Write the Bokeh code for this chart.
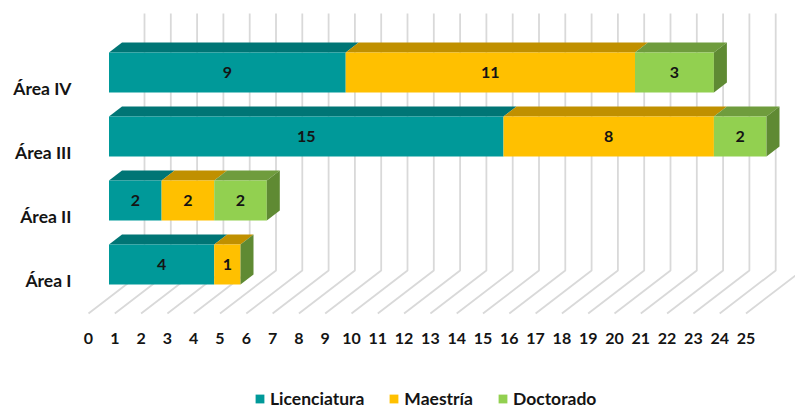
from bokeh.embed import file_html
from bokeh.resources import INLINE
from bokeh.plotting import figure
from bokeh.models import ColumnDataSource, FixedTicker, Legend, LegendItem
from bokeh.core.properties import value

# ---- data ----
areas = ["Área I", "Área II", "Área III", "Área IV"]
licenciatura = [4, 2, 15, 9]
maestria = [1, 2, 8, 11]
doctorado = [0, 2, 2, 3]
series_names = ["Licenciatura", "Maestría", "Doctorado"]
series_values = [licenciatura, maestria, doctorado]
x_ticks = list(range(0, 26))

# ---- style ----
front_colors = ["#009999", "#FFC000", "#92D050"]
top_colors = ["#007575", "#C09000", "#6F9C3D"]
side_color = "#5F8A33"
grid_color = "#D9D9D9"
text_color = "#141414"
FONT = "Lato"

# pixel scales of the oblique projection
PX_X = 26.3          # px per value unit
PX_Y = 64.0          # px per category
W, H = 795, 408
ZERO_PX = 88         # where value 0 falls on the floor's front edge
LEFT = 75            # frame's left edge

# depth offsets in data units
FLOOR_DX, FLOOR_DY = 56 / PX_X, 43 / PX_Y      # whole floor depth
BAR_DX0, BAR_DY0 = 20.5 / PX_X, 16 / PX_Y      # front plane of the bars
BAR_DDX, BAR_DDY = 13 / PX_X, 10 / PX_Y        # bar depth
HALF = 20 / PX_Y
FLOOR_Y = -33 / PX_Y                           # floor front edge
TOP_Y = 267 / PX_Y                             # top of the wall
AXIS_Y = -43 / PX_Y                            # where the value labels hang

y_start = (280 - H) / PX_Y
y_end = 280 / PX_Y

p = figure(width=W, height=H, output_backend="svg", toolbar_location=None,
           x_range=((LEFT - ZERO_PX) / PX_X, (W - ZERO_PX) / PX_X),
           y_range=(y_start, y_end),
           min_border_left=LEFT, min_border_right=0, min_border_top=0,
           min_border_bottom=0,
           outline_line_color=None, background_fill_color="white",
           border_fill_color="white")
p.grid.visible = False

# floor + wall grid
gx, gy = [], []
for t in x_ticks:
    gx.append([t, t + FLOOR_DX, t + FLOOR_DX])
    gy.append([FLOOR_Y, FLOOR_Y + FLOOR_DY, TOP_Y])
p.multi_line(gx, gy, line_color=grid_color, line_width=1.8)

# axes
xa = p.xaxis[0]
xa.fixed_location = AXIS_Y
xa.ticker = FixedTicker(ticks=x_ticks)
xa.axis_line_color = None
xa.major_tick_line_color = None
xa.minor_tick_line_color = None
xa.major_label_standoff = 3
xa.major_label_text_font = FONT
xa.major_label_text_font_style = "bold"
xa.major_label_text_font_size = "16px"
xa.major_label_text_color = text_color

ya = p.yaxis[0]
ya.ticker = FixedTicker(ticks=list(range(len(areas))))
ya.major_label_overrides = {i: a for i, a in enumerate(areas)}
ya.axis_line_color = None
ya.major_tick_line_color = None
ya.minor_tick_line_color = None
ya.major_tick_out = 0
ya.major_tick_in = 0
ya.minor_tick_out = 0
ya.minor_tick_in = 0
ya.major_label_standoff = 4
ya.major_label_text_font = FONT
ya.major_label_text_font_style = "bold"
ya.major_label_text_font_size = "17.5px"
ya.major_label_text_color = text_color

# stacked bars
legend_items = []
base = [0] * len(areas)
for name, vals, fc, tc in zip(series_names, series_values, front_colors, top_colors):
    idx = [i for i, v in enumerate(vals) if v > 0]
    left = [base[i] + BAR_DX0 for i in idx]
    right = [base[i] + vals[i] + BAR_DX0 for i in idx]
    yc = [i + BAR_DY0 for i in idx]
    src = ColumnDataSource(dict(left=left, right=right, y=yc,
                                mid=[(a + b) / 2 for a, b in zip(left, right)],
                                label=[str(vals[i]) for i in idx]))
    # top faces
    xs = [[a, b, b + BAR_DDX, a + BAR_DDX] for a, b in zip(left, right)]
    ys = [[y + HALF, y + HALF, y + HALF + BAR_DDY, y + HALF + BAR_DDY] for y in yc]
    p.patches(xs, ys, fill_color=tc, line_color=None)
    r = p.hbar(y="y", left="left", right="right", height=2 * HALF, source=src,
               fill_color=fc, line_color=None)
    p.text(x="mid", y="y", text="label", source=src, text_align="center",
           text_baseline="middle", text_font=value(FONT), text_font_style="bold",
           text_font_size="16px", text_color=text_color)
    legend_items.append(LegendItem(label=name, renderers=[r]))
    base = [b + v for b, v in zip(base, vals)]

# right-hand side faces of each stack
sx, sy = [], []
for i, total in enumerate(base):
    x1 = total + BAR_DX0
    y = i + BAR_DY0
    sx.append([x1, x1 + BAR_DDX, x1 + BAR_DDX, x1])
    sy.append([y - HALF, y - HALF + BAR_DDY, y + HALF + BAR_DDY, y + HALF])
p.patches(sx, sy, fill_color=side_color, line_color=None)

legend = Legend(items=legend_items, orientation="horizontal",
                location=(254 - LEFT, -1), padding=0, margin=0, spacing=24,
                glyph_width=11, glyph_height=11, label_standoff=5,
                border_line_color=None, background_fill_alpha=0,
                label_text_font=FONT, label_text_font_style="bold",
                label_text_font_size="17.5px", label_text_color=text_color)
p.add_layout(legend, "center")

open("out.html", "w").write(file_html(p, INLINE))
